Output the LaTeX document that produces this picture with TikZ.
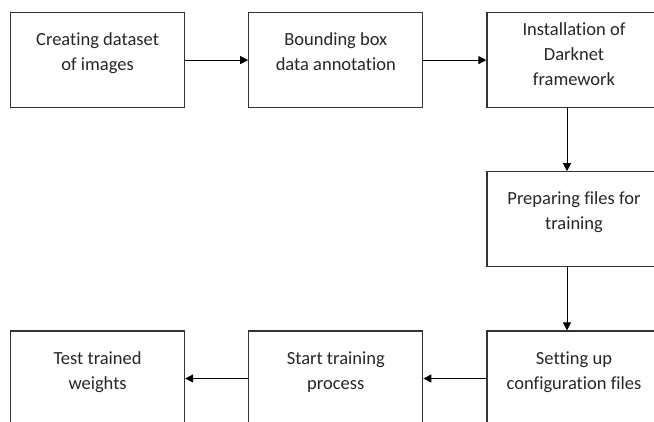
\documentclass[tikz,border=0pt]{standalone}
\usepackage{fontspec}
\setmainfont{Carlito}[Ligatures=NoCommon]
\usetikzlibrary{arrows.meta,positioning}

\begin{document}
\begin{tikzpicture}[
    x=1pt, y=1pt,
    node distance=63pt and 63pt,
    stage/.style={rectangle, draw=black!80, line width=1.2pt, align=center, minimum height=95pt, minimum width=174pt, inner sep=0pt, font=\fontsize{18.5}{25}\selectfont, text=black!85, text height=25pt, text depth=4pt},
    arrow/.style={-{Triangle[length=8pt, width=8pt]}, line width=1pt, draw=black}
]
    \useasboundingbox (0,0) rectangle (654,-422);
    \node [stage, anchor=north west] (n1) at (10,-12) {Creating dataset\\of images};
    \node [stage, right=of n1] (n2) {Bounding box\\data annotation};
    \node [stage, right=of n2, text height=55pt] (n3) {Installation of\\Darknet\\framework};
    \node [stage, below=of n3] (n4) {Preparing files for\\training};
    \node [stage, below=of n4] (n5) {Setting up\\configuration files};
    \node [stage, left=of n5] (n6) {Start training\\process};
    \node [stage, left=of n6] (n7) {Test trained\\weights};

    \draw [arrow] (n1) -- (n2);
    \draw [arrow] (n2) -- (n3);
    \draw [arrow] ([xshift=-7pt]n3.south) -- ([xshift=-7pt]n4.north);
    \draw [arrow] ([xshift=-7pt]n4.south) -- ([xshift=-7pt]n5.north);
    \draw [arrow] (n5) -- (n6);
    \draw [arrow] (n6) -- (n7);
\end{tikzpicture}
\end{document}
